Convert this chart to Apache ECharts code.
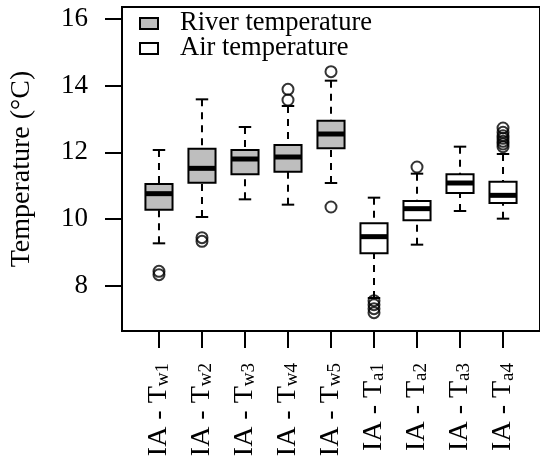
<!DOCTYPE html>
<html><head><meta charset="utf-8">
<script src="https://cdn.jsdelivr.net/npm/echarts@6/dist/echarts.min.js"></script>
<style>html,body{margin:0;padding:0;background:#fff}#c{width:540px;height:466px}</style>
</head><body><div id="c"></div>
<script>
// Category subscripts (labels are "IA - T" + subscript)
const subscripts = ['w1','w2','w3','w4','w5','a1','a2','a3','a4'];
const groups = ['River temperature','River temperature','River temperature','River temperature','River temperature','Air temperature','Air temperature','Air temperature','Air temperature'];
const whiskerLow  = [9.27, 10.06, 10.59, 10.43, 11.08, 7.63, 9.23, 10.24, 10.01];
const q1          = [10.28, 11.09, 11.34, 11.42, 12.12, 8.97, 9.96, 10.78, 10.48];
const median      = [10.76, 11.52, 11.80, 11.86, 12.55, 9.47, 10.31, 11.08, 10.71];
const q3          = [11.05, 12.11, 12.07, 12.22, 12.95, 9.87, 10.54, 11.34, 11.12];
const whiskerHigh = [12.07, 13.59, 12.76, 13.39, 14.15, 10.64, 11.36, 12.17, 11.95];
const outliers = [[8.43, 8.33], [9.44, 9.33], [], [13.89, 13.57], [14.42, 10.36],
                  [7.55, 7.43, 7.31, 7.19], [11.56], [], [12.73, 12.60, 12.50, 12.42, 12.33, 12.25, 12.17]];
const yTicks = [8, 10, 12, 14, 16];
const xTicks = [1, 2, 3, 4, 5, 6, 7, 8, 9];
const seriesNames = ['River temperature', 'Air temperature'];
const seriesColors = ['#bebebe', '#ffffff'];

const FONT = "'Liberation Serif', 'DejaVu Serif', serif";

function boxData(name) {
  const out = [];
  subscripts.forEach((s, i) => {
    if (groups[i] === name) out.push([xTicks[i], whiskerLow[i], q1[i], median[i], q3[i], whiskerHigh[i]]);
  });
  return out;
}
const outlierData = [];
outliers.forEach((arr, i) => arr.forEach(v => outlierData.push([xTicks[i], v])));

function renderBox(params, api) {
  const x = api.value(0);
  const c = [1, 2, 3, 4, 5].map(i => api.coord([x, api.value(i)]));
  const unit = api.size([1, 0])[0];
  const bw = unit * 0.63, cw = bw * 0.46;
  const cx = c[0][0];
  const st = { stroke: '#000', lineWidth: 2, fill: null };
  const dash = { stroke: '#000', lineWidth: 2, fill: null, lineDash: [7, 6] };
  return { type: 'group', children: [
    { type: 'line', shape: { x1: cx, y1: c[4][1], x2: cx, y2: c[3][1] }, style: dash },
    { type: 'line', shape: { x1: cx, y1: c[0][1], x2: cx, y2: c[1][1] }, style: dash },
    { type: 'line', shape: { x1: cx - cw / 2, y1: c[4][1], x2: cx + cw / 2, y2: c[4][1] }, style: st },
    { type: 'line', shape: { x1: cx - cw / 2, y1: c[0][1], x2: cx + cw / 2, y2: c[0][1] }, style: st },
    { type: 'rect', shape: { x: cx - bw / 2, y: c[3][1], width: bw, height: c[1][1] - c[3][1] },
      style: { fill: api.visual('color'), stroke: '#000', lineWidth: 2 } },
    { type: 'line', shape: { x1: cx - bw / 2, y1: c[2][1], x2: cx + bw / 2, y2: c[2][1] },
      style: { stroke: '#000', lineWidth: 5 } }
  ]};
}

const chart = echarts.init(document.getElementById('c'), null, { renderer: 'canvas' });
chart.setOption({
  animation: false,
  backgroundColor: '#fff',
  grid: { left: 122, top: 7, right: -5, bottom: 135, show: true, borderColor: '#000', borderWidth: 2, backgroundColor: 'transparent' },
  legend: {
    orient: 'vertical', left: 134, top: 5, itemWidth: 18, itemHeight: 11, itemGap: -2,
    icon: 'rect',
    textStyle: { fontFamily: FONT, fontSize: 26.5, lineHeight: 24, color: '#000', padding: [0, 0, 0, 17] },
    data: seriesNames.map((n, i) => ({ name: n, itemStyle: { color: seriesColors[i], borderColor: '#000', borderWidth: 2 } }))
  },
  xAxis: {
    type: 'value', min: 0.14, max: 9.86,
    axisLine: { show: true, lineStyle: { color: '#000', width: 2 } },
    splitLine: { show: false },
    axisTick: { show: true, length: 17, customValues: xTicks, lineStyle: { color: '#000', width: 2 } },
    axisLabel: {
      customValues: xTicks, rotate: 90, margin: 32, color: '#000',
      formatter: v => '{n|IA - T}{s|' + subscripts[Math.round(v) - 1] + '}',
      rich: {
        n: { fontFamily: FONT, fontSize: 28, color: '#000' },
        s: { fontFamily: FONT, fontSize: 19, color: '#000', verticalAlign: 'bottom' }
      }
    }
  },
  yAxis: {
    type: 'value', min: 6.64, max: 16.36,
    name: 'Temperature (°C)', nameLocation: 'middle', nameGap: 86,
    nameTextStyle: { fontFamily: FONT, fontSize: 28, color: '#000' },
    axisLine: { show: true, lineStyle: { color: '#000', width: 2 } },
    splitLine: { show: false },
    axisTick: { show: true, length: 17, customValues: yTicks, lineStyle: { color: '#000', width: 2 } },
    axisLabel: { customValues: yTicks, margin: 34, fontFamily: FONT, fontSize: 27, color: '#000' }
  },
  series: [
    { name: seriesNames[0], type: 'custom', renderItem: renderBox, data: boxData(seriesNames[0]),
      encode: { x: 0, y: [1, 2, 3, 4, 5] }, itemStyle: { color: seriesColors[0], borderColor: '#000', borderWidth: 2 } },
    { name: seriesNames[1], type: 'custom', renderItem: renderBox, data: boxData(seriesNames[1]),
      encode: { x: 0, y: [1, 2, 3, 4, 5] }, itemStyle: { color: seriesColors[1], borderColor: '#000', borderWidth: 2 } },
    { name: 'outliers', type: 'scatter', data: outlierData, symbol: 'circle', symbolSize: 11,
      itemStyle: { color: 'rgba(0,0,0,0)', borderColor: '#000', borderWidth: 2 }, z: 3 }
  ]
});
</script></body></html>
